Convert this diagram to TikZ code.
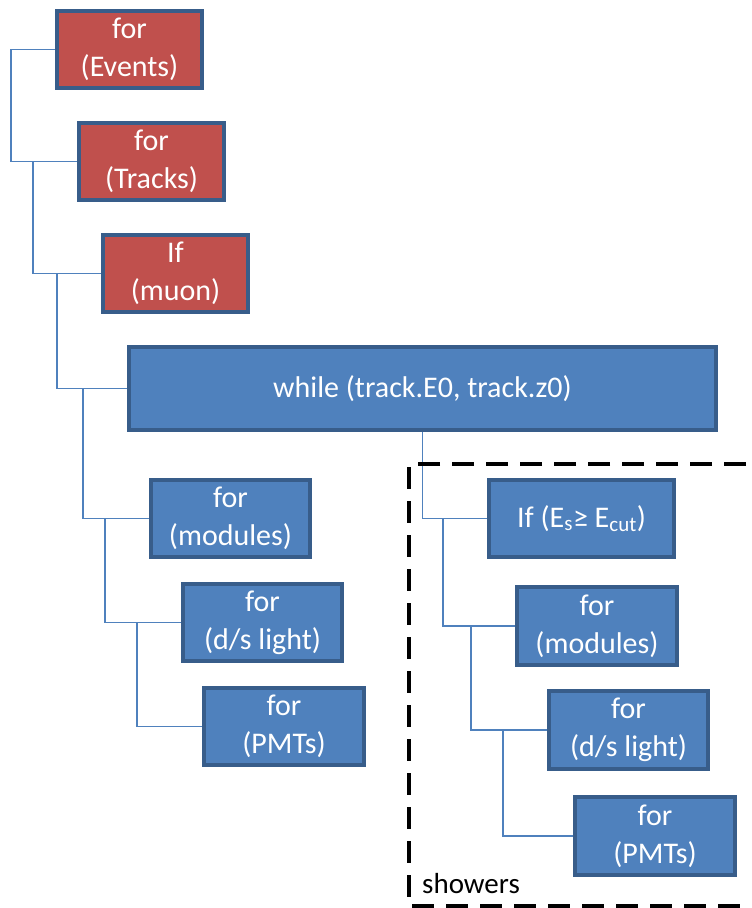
\documentclass[tikz,border=0pt]{standalone}
\usepackage{fontspec}
\setmainfont{Carlito}
\usepackage{tikz}
\definecolor{boxred}{HTML}{C0504D}
\definecolor{boxblue}{HTML}{4F81BD}
\definecolor{boxline}{HTML}{385D8A}
\begin{document}
\begin{tikzpicture}[x=1pt,y=-1pt]
\tikzset{edge/.style = {-, draw=boxblue, line width=1.5pt}}
\tikzset{block/.style = {shape=rectangle, draw=boxline, line width=4pt, text=white, align=center,
  font=\fontsize{30}{38}\selectfont, minimum width=145pt, minimum height=77pt, inner sep=0pt}}
\tikzset{redblock/.style = {block, fill=boxred}}
\tikzset{blueblock/.style = {block, fill=boxblue}}
\def \back {-44}
\useasboundingbox (0,0) rectangle (752,908);
% outer loops
\node[redblock](ev) at (129.5,49.5) {for\\(Events)};
\node[redblock](tr) at (151.5,161.5) {for\\(Tracks)};
\node[redblock](mu) at (175.5,273.5) {If\\(muon)};
\node[blueblock, minimum width=587pt, minimum height=83pt](wh) at (422.5,388.5) {while (track.E0, track.z0)};
% muon steps
\node[blueblock, minimum width=159pt](mo) at (230.5,518.5) {for\\(modules)};
\node[blueblock, minimum width=159pt](ds) at (262.5,622.5) {for\\(d/s light)};
\node[blueblock, minimum width=160pt](pm) at (284,726.5) {for\\(PMTs)};
% showers
\node[blueblock, minimum width=185pt](if) at (581.5,518.5) {If (E\textsubscript{s}≥ E\textsubscript{cut})};
\node[blueblock, minimum width=160pt, minimum height=78pt](mo2) at (597,626) {for\\(modules)};
\node[blueblock, minimum width=159pt, minimum height=78pt](ds2) at (628.5,730) {for\\(d/s light)};
\node[blueblock, minimum width=160pt, minimum height=78pt](pm2) at (655,836) {for\\(PMTs)};
\draw[edge] (ev.west) -- ++(\back,0) |- (tr.west);
\draw[edge] (tr.west) -- ++(\back,0) |- (mu.west);
\draw[edge] (mu.west) -- ++(\back,0) |- (wh.west);
\draw[edge] (wh.west) -- ++(\back,0) |- (mo.west);
\draw[edge] (mo.west) -- ++(\back,0) |- (ds.west);
\draw[edge] (ds.west) -- ++(\back,0) |- (pm.west);
\draw[edge] (wh.south) |- (if.west);
\draw[edge] (if.west) -- ++(\back,0) |- (mo2.west);
\draw[edge] (mo2.west) -- ++(\back,0) |- (ds2.west);
\draw[edge] (ds2.west) -- ++(\back,0) |- (pm2.west);
\draw[line width=4pt, dash pattern=on 22pt off 12pt] (780,464) -- (409,464) -- (409,906) -- (780,906);
\node[anchor=base west, font=\fontsize{29}{34}\selectfont, inner sep=0pt](sh) at (422,893) {showers};
\end{tikzpicture}
\end{document}
